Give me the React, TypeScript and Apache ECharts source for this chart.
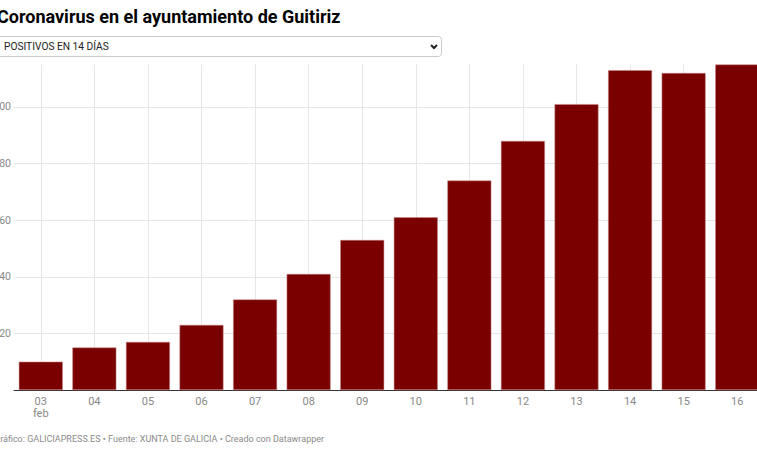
import React, { useEffect, useRef } from "react";
import * as echarts from "echarts";

const categories = ["03", "04", "05", "06", "07", "08", "09", "10", "11", "12", "13", "14", "15", "16"];
const values = [10, 15, 17, 23, 32, 41, 53, 61, 74, 88, 101, 113, 112, 115];
const yTicks = [0, 20, 40, 60, 80, 100];

const titleText = "Coronavirus en el ayuntamiento de Guitiriz";
const selectText = "POSITIVOS EN 14 DÍAS";
const footerText = "Gráfico: GALICIAPRESS.ES • Fuente: XUNTA DE GALICIA • Creado con Datawrapper";

export default function App() {
  const ref = useRef<HTMLDivElement>(null);
  useEffect(() => {
    if (!ref.current) return;
    const chart = echarts.init(ref.current, undefined, { renderer: "svg" });
    const font = "Roboto, 'Noto Sans', sans-serif";
    chart.setOption({
      animation: false,
      backgroundColor: "#ffffff",
      textStyle: { fontFamily: font },
      grid: {
        left: 14,
        right: -7,
        top: 64.5,
        bottom: 73,
        containLabel: false,
        outerBoundsMode: "none",
      },
      xAxis: {
        type: "category",
        data: categories,
        axisLine: { show: true, lineStyle: { color: "#333333", width: 1 } },
        axisTick: { show: false, alignWithLabel: true },
        splitLine: { show: true, alignWithLabel: true, lineStyle: { color: "#e6e6e6", width: 1 } },
        axisLabel: {
          color: "#888888",
          fontSize: 11,
          margin: 5,
          lineHeight: 12,
          formatter: (v: string, i: number) => (i === 0 ? v + "\nfeb" : v),
        },
      },
      yAxis: {
        type: "value",
        min: 0,
        max: 115,
        interval: 20,
        axisLine: { show: false },
        axisTick: { show: false, customValues: yTicks },
        splitLine: { show: true, lineStyle: { color: "#e6e6e6", width: 1 } },
        axisLabel: {
          color: "#888888",
          fontSize: 10.5,
          margin: 3,
          customValues: yTicks.slice(1),
        },
      },
      series: [
        {
          type: "bar",
          data: values,
          barCategoryGap: "18%",
          itemStyle: { color: "#7a0000", borderColor: "#c98a8a", borderWidth: 0.5 },
        },
      ],
      graphic: [
        {
          type: "text",
          x: -3,
          y: 7,
          style: { text: titleText, font: `bold 18px ${font}`, fill: "#000000" },
        },
        {
          type: "rect",
          shape: { x: -6, y: 36.5, width: 447.5, height: 20, r: 3 },
          style: { fill: "#ffffff", stroke: "#cccccc", lineWidth: 1 },
        },
        {
          type: "text",
          x: 4,
          y: 41.5,
          style: { text: selectText, font: `10.2px ${font}`, fill: "#222222" },
        },
        {
          type: "polyline",
          shape: { points: [[431, 45], [434, 48], [437, 45]] },
          style: { stroke: "#222222", lineWidth: 2, fill: "none" },
        },
        {
          type: "text",
          x: -6,
          y: 434,
          style: { text: footerText, font: `9px ${font}`, fill: "#8a8a8a" },
        },
      ],
    });
    return () => chart.dispose();
  }, []);
  return (
    <div
      ref={ref}
      style={{ position: "fixed", left: 0, top: 0, width: 757, height: 463 }}
    />
  );
}
